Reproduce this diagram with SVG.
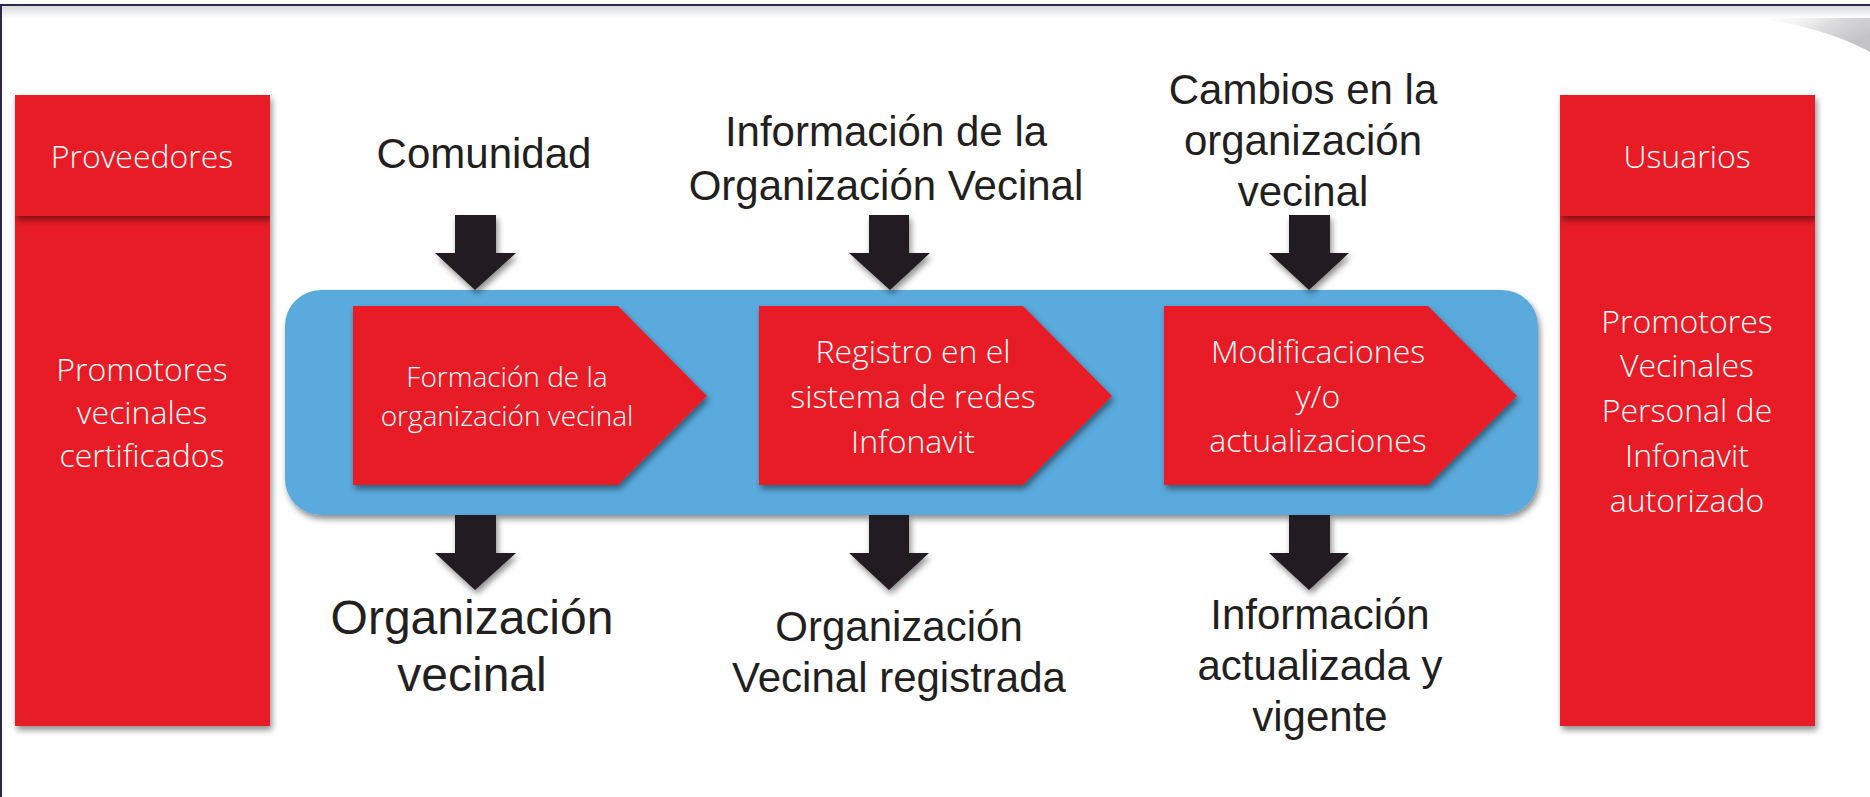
<svg xmlns="http://www.w3.org/2000/svg" width="1870" height="797" viewBox="0 0 1870 797">
<defs>
<filter id="sh" x="-10%" y="-10%" width="130%" height="130%">
<feGaussianBlur in="SourceAlpha" stdDeviation="3"/>
<feOffset dx="2" dy="4" result="b"/>
<feComponentTransfer><feFuncA type="linear" slope="0.45"/></feComponentTransfer>
<feMerge><feMergeNode/><feMergeNode in="SourceGraphic"/></feMerge>
</filter>
<linearGradient id="topg" x1="0" y1="0" x2="0" y2="1">
<stop offset="0" stop-color="#d9d9dc"/>
<stop offset="1" stop-color="#ffffff"/>
</linearGradient>
<linearGradient id="swoosh" x1="0" y1="0" x2="1" y2="0.5">
<stop offset="0" stop-color="#ffffff" stop-opacity="0"/>
<stop offset="0.6" stop-color="#d4d4d6"/>
<stop offset="1" stop-color="#b4b4b7"/>
</linearGradient>
<style>
.red{fill:#e81e26}
.blue{fill:#5aaadd}
.arr{fill:#231f20}
.wt{font-family:"Open Sans","Noto Sans",sans-serif;font-weight:300;fill:#ffffff;text-anchor:middle}
.bk{font-family:"Liberation Sans",Arial,sans-serif;fill:#231f20;text-anchor:middle}
</style>
</defs>
<rect x="0" y="0" width="1870" height="797" fill="#ffffff"/>
<rect x="0" y="6" width="1870" height="12" fill="url(#topg)"/>
<path d="M1750 18 C1800 22 1845 38 1870 52 L1870 18 Z" fill="url(#swoosh)" opacity="0.8"/>
<rect x="0" y="4" width="1870" height="2" fill="#2a2a48"/>
<rect x="0" y="4" width="2" height="793" fill="#2a2a48"/>

<g id="proveedores">
<rect class="red" x="15" y="216" width="255" height="510" filter="url(#sh)"/>
<rect class="red" x="15" y="95" width="255" height="121" filter="url(#sh)"/>
<text class="wt" x="142" y="168" font-size="32">Proveedores</text>
<text class="wt" x="142" y="381" font-size="32">Promotores</text>
<text class="wt" x="142" y="424" font-size="32">vecinales</text>
<text class="wt" x="142" y="467" font-size="32">certificados</text>
</g>

<g id="usuarios">
<rect class="red" x="1560" y="216" width="255" height="510" filter="url(#sh)"/>
<rect class="red" x="1560" y="95" width="255" height="121" filter="url(#sh)"/>
<text class="wt" x="1687" y="168" font-size="32">Usuarios</text>
<text class="wt" x="1687" y="333" font-size="32">Promotores</text>
<text class="wt" x="1687" y="377" font-size="32">Vecinales</text>
<text class="wt" x="1687" y="422" font-size="32">Personal de</text>
<text class="wt" x="1687" y="467" font-size="32">Infonavit</text>
<text class="wt" x="1687" y="512" font-size="32">autorizado</text>
</g>

<g id="proceso">
<rect class="blue" x="285" y="290" width="1253" height="225" rx="36" ry="36" filter="url(#sh)"/>
</g>

<g id="paso1">
<path class="red" d="M353 306 L618 306 L707 396 L618 485 L353 485 Z" filter="url(#sh)"/>
<text class="wt" x="507" y="387" font-size="28">Formación de la</text>
<text class="wt" x="507" y="426" font-size="28">organización vecinal</text>
</g>

<g id="paso2">
<path class="red" d="M759 306 L1023 306 L1112 396 L1023 485 L759 485 Z" filter="url(#sh)"/>
<text class="wt" x="913" y="363" font-size="32">Registro en el</text>
<text class="wt" x="913" y="408" font-size="32">sistema de redes</text>
<text class="wt" x="913" y="453" font-size="32">Infonavit</text>
</g>

<g id="paso3">
<path class="red" d="M1164 306 L1428 306 L1517 396 L1428 485 L1164 485 Z" filter="url(#sh)"/>
<text class="wt" x="1318" y="363" font-size="32">Modificaciones</text>
<text class="wt" x="1318" y="408" font-size="32">y/o</text>
<text class="wt" x="1318" y="452" font-size="32">actualizaciones</text>
</g>

<g id="entrada1">
<text class="bk" x="484" y="168" font-size="42">Comunidad</text>
</g>
<g id="entrada2">
<text class="bk" x="886" y="146" font-size="42">Información de la</text>
<text class="bk" x="886" y="200" font-size="42">Organización Vecinal</text>
</g>
<g id="entrada3">
<text class="bk" x="1303" y="104" font-size="42">Cambios en la</text>
<text class="bk" x="1303" y="155" font-size="42">organización</text>
<text class="bk" x="1303" y="206" font-size="42">vecinal</text>
</g>

<g id="salida1">
<text class="bk" x="472" y="634" font-size="48">Organización</text>
<text class="bk" x="472" y="691" font-size="48">vecinal</text>
</g>
<g id="salida2">
<text class="bk" x="899" y="641" font-size="42">Organización</text>
<text class="bk" x="899" y="692" font-size="42">Vecinal registrada</text>
</g>
<g id="salida3">
<text class="bk" x="1320" y="629" font-size="42">Información</text>
<text class="bk" x="1320" y="680" font-size="42">actualizada y</text>
<text class="bk" x="1320" y="731" font-size="42">vigente</text>
</g>

<g id="conectores">
<path class="arr" d="M455 215 L496 215 L496 253 L516 253 L475 290 L435 253 L455 253 Z" filter="url(#sh)"/>
<path class="arr" d="M869 215 L909 215 L909 253 L930 253 L890 290 L849 253 L869 253 Z" filter="url(#sh)"/>
<path class="arr" d="M1289 215 L1330 215 L1330 253 L1349 253 L1309 290 L1269 253 L1289 253 Z" filter="url(#sh)"/>
<path class="arr" d="M455 515 L496 515 L496 553 L516 553 L475 590 L435 553 L455 553 Z" filter="url(#sh)"/>
<path class="arr" d="M869 515 L909 515 L909 553 L929 553 L889 590 L849 553 L869 553 Z" filter="url(#sh)"/>
<path class="arr" d="M1289 515 L1330 515 L1330 553 L1349 553 L1309 590 L1269 553 L1289 553 Z" filter="url(#sh)"/>
</g>
</svg>
